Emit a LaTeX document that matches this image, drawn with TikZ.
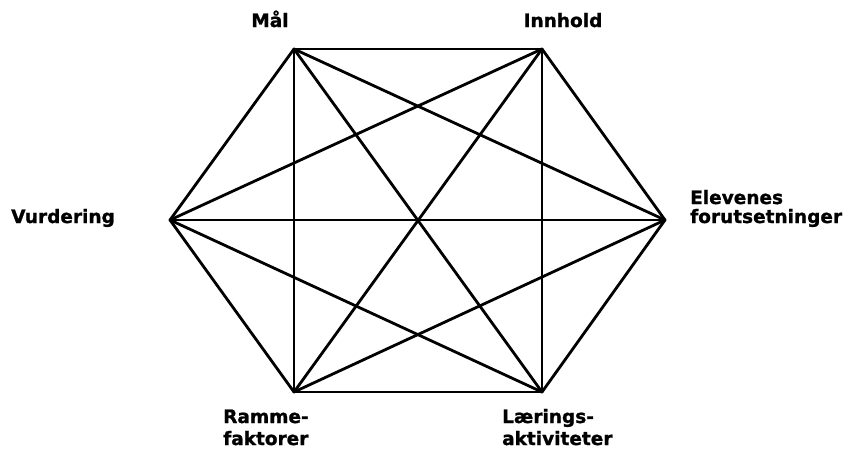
\documentclass[tikz,border=0pt]{standalone}
\usepackage{fontspec}
\newfontfamily\lblfont[FakeBold=1.2]{DejaVu Sans Bold}
\begin{document}
\begin{tikzpicture}[x=1pt,y=-1pt,
  edge/.style={line width=2.8pt,line cap=round,line join=round},
  lbl/.style={inner sep=0pt,font=\fontsize{18.5}{20}\lblfont}]
\useasboundingbox (0,0) rectangle (843,451);
\fill[white] (0,0) rectangle (843,451);
\coordinate (M) at (294,49);
\coordinate (I) at (542,49);
\coordinate (E) at (665,220);
\coordinate (L) at (542,392);
\coordinate (R) at (294,392);
\coordinate (V) at (170,220);
\foreach \a/\b in {M/I,I/E,E/L,L/R,R/V,V/M,M/E,M/L,M/R,I/V,I/R,I/L,V/E,V/L,E/R}
  \draw[edge] (\a) -- (\b);
\node[lbl,anchor=base] (mal) at (270,27) {Mål};
\node[lbl,anchor=base] (innhold) at (563,27) {Innhold};
\node[lbl,anchor=base west] (vurdering) at (11,223) {Vurdering};
\node[lbl,anchor=base west] (elev1) at (690,204) {Elevenes};
\node[lbl,anchor=base west] (elev2) at (690,223) {forutsetninger};
\node[lbl,anchor=base west] (ramme1) at (223,423) {Ramme-};
\node[lbl,anchor=base west] (ramme2) at (223,445) {faktorer};
\node[lbl,anchor=base west] (laer1) at (502,423) {Lærings-};
\node[lbl,anchor=base west] (laer2) at (502,445) {aktiviteter};
\end{tikzpicture}
\end{document}
